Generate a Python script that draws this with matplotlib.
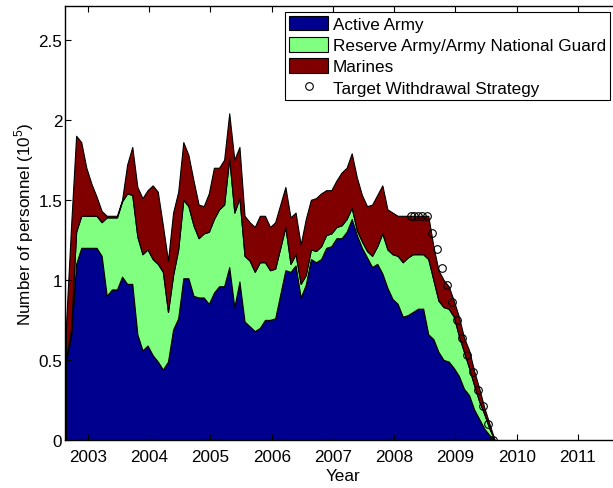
import numpy as np
import matplotlib
matplotlib.use("Agg")
import matplotlib.pyplot as plt

plt.rcParams['font.family'] = ['Liberation Sans', 'DejaVu Sans']
plt.rcParams['mathtext.fontset'] = 'custom'
plt.rcParams['mathtext.rm'] = 'Liberation Sans'

# monthly samples, Aug 2002 .. Aug 2009 (values in units of 1e5 personnel)
start_year = 2002.64
n_months = 85

# stack levels
active_top = [0.49, 0.65, 1.10, 1.20, 1.20, 1.20, 1.20, 1.15, 0.90, 0.94,
              0.94, 1.02, 0.975, 0.975, 0.66, 0.56, 0.59, 0.53, 0.49, 0.44,
              0.49, 0.69, 0.76, 1.01, 1.01, 0.90, 0.89, 0.89, 0.85, 0.92,
              0.96, 0.96, 1.08, 0.83, 0.99, 0.74, 0.71, 0.68, 0.70, 0.75,
              0.75, 0.76, 0.91, 1.06, 1.05, 1.09, 0.89, 0.97, 1.13, 1.11,
              1.13, 1.20, 1.21, 1.26, 1.26, 1.30, 1.38, 1.28, 1.20, 1.14,
              1.08, 1.10, 1.04, 0.95, 0.88, 0.85, 0.77, 0.78, 0.80, 0.82,
              0.82, 0.66, 0.63, 0.55, 0.50, 0.49, 0.45, 0.40, 0.32, 0.28,
              0.19, 0.13, 0.07, 0.03, 0.0]
army_top = [0.50, 0.69, 1.30, 1.40, 1.40, 1.40, 1.40, 1.36, 1.39, 1.39,
            1.39, 1.49, 1.54, 1.53, 1.27, 1.16, 1.19, 1.13, 1.10, 1.05,
            0.80, 1.03, 1.19, 1.50, 1.46, 1.34, 1.26, 1.29, 1.30, 1.38,
            1.44, 1.47, 1.76, 1.42, 1.51, 1.15, 1.12, 1.05, 1.11, 1.11,
            1.06, 1.07, 1.20, 1.33, 1.10, 1.16, 0.975, 1.03, 1.19, 1.18,
            1.21, 1.28, 1.29, 1.33, 1.34, 1.38, 1.45, 1.31, 1.24, 1.18,
            1.15, 1.21, 1.29, 1.19, 1.16, 1.15, 1.11, 1.14, 1.16, 1.16,
            1.16, 1.13, 1.00, 0.87, 0.83, 0.82, 0.77, 0.65, 0.55, 0.45,
            0.34, 0.24, 0.16, 0.07, 0.0]
total_top = [0.71, 1.33, 1.90, 1.86, 1.70, 1.60, 1.52, 1.43, 1.40, 1.40,
             1.40, 1.50, 1.72, 1.83, 1.58, 1.51, 1.56, 1.59, 1.55, 1.34,
             1.12, 1.42, 1.55, 1.86, 1.78, 1.62, 1.47, 1.46, 1.54, 1.70,
             1.70, 1.75, 2.04, 1.75, 1.83, 1.40, 1.36, 1.33, 1.40, 1.40,
             1.33, 1.36, 1.47, 1.58, 1.39, 1.42, 1.22, 1.38, 1.50, 1.51,
             1.54, 1.56, 1.56, 1.62, 1.67, 1.70, 1.79, 1.64, 1.53, 1.46,
             1.47, 1.53, 1.59, 1.44, 1.42, 1.40, 1.40, 1.40, 1.40, 1.40,
             1.40, 1.40, 1.21, 1.06, 1.00, 0.96, 0.87, 0.77, 0.64, 0.56,
             0.43, 0.32, 0.20, 0.10, 0.0]

# target withdrawal points
target_years = [2008.28, 2008.33, 2008.39, 2008.46, 2008.54, 2008.62, 2008.705,
                2008.787, 2008.869, 2008.951, 2009.033, 2009.115, 2009.197,
                2009.284, 2009.372, 2009.454, 2009.536, 2009.618]
target_vals = [1.40, 1.40, 1.40, 1.40, 1.40, 1.29, 1.19, 1.075, 0.965, 0.86,
               0.75, 0.64, 0.53, 0.425, 0.31, 0.21, 0.10, 0.0]

labels = ["Active Army", "Reserve Army/Army National Guard", "Marines"]
colors = ["#00008F", "#80FF80", "#800000"]

years = start_year + np.arange(n_months) / 12.0
active = np.array(active_top)
reserve = np.array(army_top) - active
marines = np.array(total_top) - np.array(army_top)

fig = plt.figure(figsize=(6.13, 4.89), dpi=100)
ax = fig.add_axes([65 / 613, 48 / 489, (622 - 65) / 613, 434 / 489])

ax.stackplot(years, active, reserve, marines, labels=labels, colors=colors,
             edgecolor="black", linewidth=0.8)
ax.plot(target_years, target_vals, "o", mfc="none", mec="black", ms=5.5,
        mew=0.8, label="Target Withdrawal Strategy")

ax.set_xlim(2002.625, 2011.72)
ax.set_ylim(0, 2.71)
ax.set_xticks(range(2003, 2012))
ax.set_yticks([0, 0.5, 1, 1.5, 2, 2.5])
ax.set_yticklabels(["0", "0.5", "1", "1.5", "2", "2.5"])
ax.tick_params(direction="in", length=4, width=0.8, top=True, right=True,
               labelsize=12.3)
ax.tick_params(axis="x", pad=6.5)
ax.tick_params(axis="y", pad=2)
for s in ax.spines.values():
    s.set_linewidth(1.0)

ax.set_xlabel("Year", fontsize=12.3, labelpad=3)
ax.set_ylabel(r"Number of personnel (10$^5$)", fontsize=12.3, labelpad=2)

leg = ax.legend(loc="upper right", bbox_to_anchor=(610 / 613, 1 - 13 / 489),
                bbox_transform=fig.transFigure, borderaxespad=0,
                fontsize=12.3, fancybox=False, framealpha=1, edgecolor="black",
                handlelength=2.3, handleheight=0.9, handletextpad=0.25,
                labelspacing=0.3, borderpad=0.25)
leg.get_frame().set_linewidth(0.8)

fig.savefig("out.png", dpi=100)
